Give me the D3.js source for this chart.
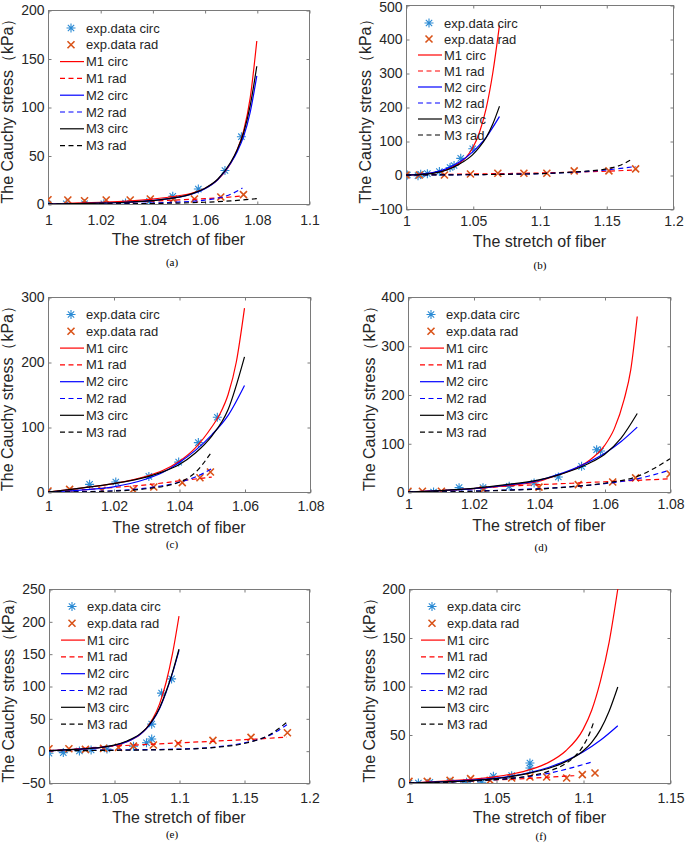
<!DOCTYPE html>
<html><head><meta charset="utf-8">
<script src="https://cdn.jsdelivr.net/npm/d3@7"></script>
<style>body{margin:0;background:#fff}svg{display:block}</style>
</head><body><svg id="c" width="685" height="849"></svg>
<script>
// ---------- Panel (a) ----------
const aXTicks = ["1","1.02","1.04","1.06","1.08","1.1"];
const aYTicks = [0,50,100,150,200];
const aExpCirc = [[1,0],[1.007,0.3],[1.014,0.3],[1.0214,0.3],[1.0297,1],[1.0389,2.7],[1.0478,7.9],[1.0576,15.4],[1.0678,34.5],[1.0741,69.4]];
const aExpRad = [[1,4.4],[1.0076,4.1],[1.014,3.4],[1.0223,4.1],[1.0315,4.1],[1.0392,5.1],[1.048,5],[1.0561,5.1],[1.0662,7.2],[1.0749,9.6]];
const aM1circ = [[1,0],[1.01,0.8],[1.02,1.8],[1.03,3],[1.04,5],[1.05,8.5],[1.055,11],[1.06,16],[1.065,25],[1.07,42],[1.0725,56],[1.075,76],[1.0775,110],[1.08,168]];
const aM1rad = [[1,0],[1.02,1.2],[1.04,3],[1.05,4.2],[1.06,5.5],[1.07,7.2],[1.0745,8.5]];
const aM2circ = [[1,0],[1.01,0.3],[1.02,0.8],[1.03,1.8],[1.04,3.5],[1.05,7],[1.055,10],[1.06,15.5],[1.065,25],[1.07,42],[1.0725,54],[1.075,70],[1.0775,95],[1.08,132]];
const aM2rad = [[1,0],[1.02,0.2],[1.04,1],[1.05,2],[1.06,4],[1.065,6],[1.07,10],[1.0745,16.5]];
const aM3circ = [[1,0],[1.01,0.3],[1.02,0.8],[1.03,1.8],[1.04,3.5],[1.05,7],[1.055,10.5],[1.06,16],[1.065,25.5],[1.07,43],[1.0725,56],[1.075,74],[1.0775,102],[1.08,142]];
const aM3rad = [[1,0],[1.02,0.1],[1.04,0.5],[1.05,1],[1.06,1.8],[1.07,3.2],[1.08,5.5]];

// ---------- Panel (b) ----------
const bXTicks = ["1","1.05","1.1","1.15","1.2"];
const bYTicks = [-100,0,100,200,300,400,500];
const bExpCirc = [[1.001,0],[1.009,-2],[1.011,2],[1.016,4],[1.025,10],[1.033,22],[1.036,28],[1.041,49],[1.05,77]];
const bExpRad = [[1,0],[1.01,0],[1.0288,0],[1.0483,3],[1.0688,5],[1.0883,5],[1.1055,5],[1.126,12],[1.152,12],[1.172,18]];
const bM1circ = [[1,0],[1.01,2],[1.02,6],[1.03,15],[1.04,35],[1.045,52],[1.05,80],[1.055,125],[1.06,195],[1.065,300],[1.07,440]];
const bM1rad = [[1,0],[1.05,3],[1.1,6],[1.13,9],[1.15,11],[1.172,15]];
const bM2circ = [[1,0],[1.01,2],[1.02,7],[1.03,18],[1.04,38],[1.05,68],[1.055,88],[1.06,110],[1.065,140],[1.07,172]];
const bM2rad = [[1,0],[1.05,1],[1.1,4],[1.13,9],[1.15,15],[1.172,25]];
const bM3circ = [[1,0],[1.01,1.5],[1.02,5],[1.03,14],[1.04,32],[1.05,60],[1.055,82],[1.06,110],[1.065,150],[1.07,202]];
const bM3rad = [[1,0],[1.05,1],[1.1,4],[1.13,10],[1.15,18],[1.16,28],[1.17,48]];

// ---------- Panel (c) ----------
const cXTicks = ["1","1.02","1.04","1.06","1.08"];
const cYTicks = [0,100,200,300];
const cExpCirc = [[1,0],[1.0064,0],[1.0127,11.8],[1.0207,15.4],[1.0308,24],[1.0399,46],[1.0459,76],[1.0517,115]];
const cExpRad = [[1,1.5],[1.0066,4],[1.0165,2.6],[1.026,3.6],[1.0323,7.7],[1.041,14.4],[1.0464,22],[1.0496,30.8]];
const cM1circ = [[1,0],[1.01,6],[1.02,13],[1.03,24],[1.035,33],[1.04,47],[1.045,68],[1.05,100],[1.0525,120],[1.055,150],[1.0575,200],[1.06,283]];
const cM1rad = [[1,0],[1.01,3],[1.02,7],[1.03,11],[1.04,17],[1.045,20],[1.05,23]];
const cM2circ = [[1,0],[1.01,3],[1.02,8],[1.03,20],[1.035,30],[1.04,45],[1.045,64],[1.05,88],[1.055,118],[1.06,164]];
const cM2rad = [[1,0],[1.01,0.5],[1.02,2],[1.03,6],[1.04,15],[1.045,23],[1.05,36]];
const cM3circ = [[1,0],[1.01,6],[1.02,13],[1.03,23],[1.035,31],[1.04,42],[1.045,60],[1.05,86],[1.055,127],[1.06,208]];
const cM3rad = [[1,0],[1.01,0.3],[1.02,1.5],[1.03,5],[1.04,15],[1.045,30],[1.05,62]];

// ---------- Panel (d) ----------
const dXTicks = ["1","1.02","1.04","1.06","1.08"];
const dYTicks = [0,100,200,300,400];
const dExpCirc = [[1,0],[1.0078,0],[1.0156,8.9],[1.0229,8.9],[1.0309,11.6],[1.0385,18.5],[1.0459,30.8],[1.053,52.6],[1.0576,86.8],[1.0588,84]];
const dExpRad = [[1,1.5],[1.0044,1.5],[1.0102,1.5],[1.023,5],[1.04,10],[1.052,15],[1.0625,20.5],[1.0695,29],[1.08,37]];
const dM1circ = [[1,0],[1.01,3],[1.02,7],[1.03,13],[1.04,22],[1.045,33],[1.05,45],[1.055,63],[1.06,95],[1.063,130],[1.066,190],[1.068,250],[1.07,360]];
const dM1rad = [[1,0],[1.01,3],[1.02,7],[1.03,12],[1.04,15],[1.05,18],[1.06,21],[1.07,24],[1.08,27]];
const dM2circ = [[1,0],[1.01,3],[1.02,7],[1.03,14],[1.04,24],[1.045,34],[1.05,46],[1.055,61],[1.06,79],[1.065,103],[1.07,133]];
const dM2rad = [[1,0],[1.01,0.5],[1.02,2],[1.03,4],[1.04,7],[1.05,11],[1.06,17],[1.07,27],[1.08,45]];
const dM3circ = [[1,0],[1.01,3],[1.02,7.5],[1.03,15],[1.04,25],[1.045,33],[1.05,44],[1.055,58],[1.06,77],[1.065,110],[1.07,161]];
const dM3rad = [[1,0],[1.01,0.3],[1.02,1.5],[1.03,3.5],[1.04,6],[1.05,11],[1.06,18],[1.07,32],[1.08,68]];

// ---------- Panel (e) ----------
const eXTicks = ["1","1.05","1.1","1.15","1.2"];
const eYTicks = [-50,0,50,100,150,200,250];
const eExpCirc = [[1,-4],[1.011,-3],[1.0234,-0.5],[1.0324,1],[1.0446,2.6],[1.065,7],[1.075,12.3],[1.079,18],[1.079,41],[1.0866,89],[1.0943,111]];
const eExpRad = [[1,3],[1.0153,3],[1.028,2],[1.042,3.6],[1.0535,5],[1.065,7],[1.0803,8.7],[1.0994,11],[1.1261,16],[1.1554,20.5],[1.1834,27.7]];
const eM1circ = [[1,0],[1.02,2],[1.04,5],[1.05,8],[1.06,14],[1.07,25],[1.075,35],[1.08,50],[1.085,72],[1.09,105],[1.095,150],[1.1,208]];
const eM1rad = [[1,0],[1.03,4],[1.05,7],[1.08,10],[1.1,12],[1.13,15],[1.16,18],[1.183,21]];
const eM2circ = [[1,0],[1.02,2],[1.04,5],[1.05,8],[1.06,14],[1.07,25],[1.075,34],[1.08,47],[1.085,65],[1.09,90],[1.095,120],[1.1,155]];
const eM2rad = [[1,0],[1.05,1],[1.1,2.5],[1.13,6],[1.15,12],[1.17,24],[1.183,40]];
const eM3circ = [[1,0],[1.02,2],[1.04,5],[1.05,8.5],[1.06,15],[1.07,26],[1.075,35],[1.08,48],[1.085,66],[1.09,91],[1.095,121],[1.1,157]];
const eM3rad = [[1,0],[1.05,0.5],[1.1,2],[1.13,5.5],[1.15,11],[1.17,25],[1.183,44]];

// ---------- Panel (f) ----------
const fXTicks = ["1","1.05","1.1","1.15"];
const fYTicks = [0,50,100,150,200];
const fExpCirc = [[1,0],[1.0054,0],[1.012,0.7],[1.0236,0.7],[1.0331,0.7],[1.0418,0.7],[1.0485,6.9],[1.059,7.6],[1.0695,15.5],[1.0695,20.6]];
const fExpRad = [[1,1.7],[1.0105,1.7],[1.0236,2.7],[1.0354,4.5],[1.0466,2.7],[1.059,5.2],[1.0695,6.2],[1.0791,6.2],[1.0906,5.2],[1.0996,8.6],[1.1069,10.3]];
const fM1circ = [[1,0],[1.02,2],[1.04,4.5],[1.05,6.5],[1.06,9.5],[1.07,14],[1.08,21],[1.09,33],[1.1,55],[1.105,75],[1.11,105],[1.115,145],[1.12,200]];
const fM1rad = [[1,0],[1.03,2],[1.06,4],[1.08,6],[1.09,7],[1.095,7.5]];
const fM2circ = [[1,0],[1.02,1.5],[1.04,3.5],[1.05,5],[1.06,7.5],[1.07,11],[1.08,16],[1.09,23],[1.1,32],[1.11,44],[1.12,59]];
const fM2rad = [[1,0],[1.03,1.5],[1.05,3.5],[1.06,5],[1.07,7],[1.08,10],[1.09,14],[1.1,19],[1.106,22]];
const fM3circ = [[1,0],[1.02,1.2],[1.04,3],[1.05,4.5],[1.06,7],[1.07,10.5],[1.08,15],[1.09,22],[1.1,33],[1.105,42],[1.11,55],[1.115,74],[1.12,99]];
const fM3rad = [[1,0],[1.03,1.5],[1.05,3.5],[1.06,5],[1.07,7.5],[1.08,12],[1.09,20],[1.095,27],[1.1,38],[1.104,52],[1.106,62]];

const legendLabels = ["exp.data circ","exp.data rad","M1 circ","M1 rad","M2 circ","M2 rad","M3 circ","M3 rad"];
const xLabel = "The stretch of fiber";
const yLabel = "The Cauchy stress（kPa）";

const C_CIRC = "#2a8ad4", C_RAD = "#d95319";
const FONT = "'Liberation Sans', Arial, sans-serif";

const panels = [
  {cap:"(a)", L:48, T:10, R:309, B:204, xd:[1,1.1], yd:[0,200], xt:aXTicks, yt:aYTicks,
   tickY:225, xlabY:245, capY:266, capX:172, ylabOff:35,
   exp:[aExpCirc,aExpRad], m:[aM1circ,aM1rad,aM2circ,aM2rad,aM3circ,aM3rad], legT:18, legS:16.8},
  {cap:"(b)", L:406, T:5, R:673, B:209, xd:[1,1.2], yd:[-100,500], xt:bXTicks, yt:bYTicks,
   tickY:226, xlabY:247, capY:269, capX:540, ylabOff:35,
   exp:[bExpCirc,bExpRad], m:[bM1circ,bM1rad,bM2circ,bM2rad,bM3circ,bM3rad], legT:18, legS:16},
  {cap:"(c)", L:48, T:297, R:310, B:492, xd:[1,1.08], yd:[0,300], xt:cXTicks, yt:cYTicks,
   tickY:511, xlabY:533, capY:548, capX:172, ylabOff:35,
   exp:[cExpCirc,cExpRad], m:[cM1circ,cM1rad,cM2circ,cM2rad,cM3circ,cM3rad], legT:17.5, legS:16.8},
  {cap:"(d)", L:408, T:297, R:670, B:492, xd:[1,1.08], yd:[0,400], xt:dXTicks, yt:dYTicks,
   tickY:509, xlabY:531, capY:551, capX:541, ylabOff:33,
   exp:[dExpCirc,dExpRad], m:[dM1circ,dM1rad,dM2circ,dM2rad,dM3circ,dM3rad], legT:17.5, legS:16.8},
  {cap:"(e)", L:49, T:589, R:309, B:783, xd:[1,1.2], yd:[-50,250], xt:eXTicks, yt:eYTicks,
   tickY:803, xlabY:823, capY:838, capX:172, ylabOff:35,
   exp:[eExpCirc,eExpRad], m:[eM1circ,eM1rad,eM2circ,eM2rad,eM3circ,eM3rad], legT:17.5, legS:16.8},
  {cap:"(f)", L:409, T:589, R:670, B:783, xd:[1,1.15], yd:[0,200], xt:fXTicks, yt:fYTicks,
   tickY:803, xlabY:823, capY:840, capX:541, ylabOff:34,
   exp:[fExpCirc,fExpRad], m:[fM1circ,fM1rad,fM2circ,fM2rad,fM3circ,fM3rad], legT:17.5, legS:16.8}
];

const lineStyles = [
  {c:"#ff0000", d:null},{c:"#ff0000", d:"5,3.5"},
  {c:"#0000ff", d:null},{c:"#0000ff", d:"5,3.5"},
  {c:"#000000", d:null},{c:"#000000", d:"5,3.5"}
];

const svg = d3.select("#c");

function asterisk(g, x, y, r) {
  const p = d3.path();
  for (let k = 0; k < 4; k++) {
    const a = k * Math.PI / 4;
    p.moveTo(x - r*Math.cos(a), y - r*Math.sin(a));
    p.lineTo(x + r*Math.cos(a), y + r*Math.sin(a));
  }
  g.append("path").attr("d", p.toString()).attr("stroke", C_CIRC).attr("stroke-width", 1.1).attr("fill","none");
}
function cross(g, x, y, r) {
  const p = d3.path();
  p.moveTo(x-r, y-r); p.lineTo(x+r, y+r);
  p.moveTo(x-r, y+r); p.lineTo(x+r, y-r);
  g.append("path").attr("d", p.toString()).attr("stroke", C_RAD).attr("stroke-width", 1.6).attr("fill","none");
}

panels.forEach((P, i) => {
  const g = svg.append("g");
  const x = d3.scaleLinear().domain(P.xd).range([P.L, P.R]);
  const y = d3.scaleLinear().domain(P.yd).range([P.B, P.T]);
  const clipId = "clip" + i;
  svg.append("defs").append("clipPath").attr("id", clipId)
    .append("rect").attr("x", P.L).attr("y", P.T).attr("width", P.R-P.L).attr("height", P.B-P.T);

  g.append("rect").attr("x", P.L+0.5).attr("y", P.T+0.5).attr("width", P.R-P.L).attr("height", P.B-P.T)
    .attr("fill","none").attr("stroke","#7a7a7a").attr("stroke-width",1);

  const xVals = P.xt.map(Number);
  const xAxB = d3.axisBottom(x).tickValues(xVals).tickSize(-3).tickFormat((d,k)=>P.xt[k]);
  const gx = g.append("g").attr("transform", `translate(0.5,${P.B+0.5})`).call(xAxB);
  gx.select(".domain").remove();
  gx.selectAll("line").attr("stroke","#7a7a7a");
  gx.selectAll("text").attr("y", P.tickY - P.B - 0.5).attr("dy", null)
    .attr("font-family", FONT).attr("font-size", 14).attr("fill", "#262626");
  const gxt = g.append("g").attr("transform", `translate(0.5,${P.T+0.5})`).call(d3.axisTop(x).tickValues(xVals).tickSize(-3).tickFormat(""));
  gxt.select(".domain").remove(); gxt.selectAll("line").attr("stroke","#7a7a7a");

  const yAxL = d3.axisLeft(y).tickValues(P.yt).tickSize(-3).tickPadding(4).tickFormat(d3.format("d"));
  const gy = g.append("g").attr("transform", `translate(${P.L+0.5},0.5)`).call(yAxL);
  gy.select(".domain").remove();
  gy.selectAll("line").attr("stroke","#7a7a7a");
  gy.selectAll("text").attr("x", -4).attr("font-family", FONT).attr("font-size", 14).attr("fill", "#262626")
    .attr("dy", d => (y(d) - P.T < 6 && P.T < 8) ? "0.45em" : "0.32em");
  const gyr = g.append("g").attr("transform", `translate(${P.R+0.5},0.5)`).call(d3.axisRight(y).tickValues(P.yt).tickSize(-3).tickFormat(""));
  gyr.select(".domain").remove(); gyr.selectAll("line").attr("stroke","#7a7a7a");

  g.append("text").attr("x", (P.L+P.R)/2).attr("y", P.xlabY).attr("text-anchor","middle")
    .attr("font-family", FONT).attr("font-size", 16).attr("fill","#262626").text(xLabel);
  g.append("text").attr("transform", `translate(${P.L-P.ylabOff},${(P.T+P.B)/2}) rotate(-90)`)
    .attr("text-anchor","middle").attr("font-family", FONT).attr("font-size", 16).attr("fill","#262626").text(yLabel);
  g.append("text").attr("x", P.capX).attr("y", P.capY).attr("text-anchor","middle")
    .attr("font-family","'Liberation Serif','Times New Roman',serif").attr("font-size", 11).attr("fill","#000").text(P.cap);

  const plot = g.append("g").attr("clip-path", `url(#${clipId})`);
  P.exp[0].forEach(d => asterisk(plot, x(d[0]), y(d[1]), 4.5));
  P.exp[1].forEach(d => cross(plot, x(d[0]), y(d[1]), 3.5));
  const line = d3.line().x(d => x(d[0])).y(d => y(d[1])).curve(d3.curveMonotoneX);
  P.m.forEach((s, k) => {
    plot.append("path").attr("d", line(s)).attr("fill","none")
      .attr("stroke", lineStyles[k].c).attr("stroke-width", 1.2)
      .attr("stroke-dasharray", lineStyles[k].d);
  });

  const lg = g.append("g");
  legendLabels.forEach((lab, k) => {
    const ry = P.T + P.legT + k * P.legS;
    if (k === 0) asterisk(lg, P.L + 23, ry, 4.5);
    else if (k === 1) cross(lg, P.L + 23, ry, 3.5);
    else {
      const st = lineStyles[k-2];
      lg.append("line").attr("x1", P.L + 12).attr("x2", P.L + 36).attr("y1", ry).attr("y2", ry)
        .attr("stroke", st.c).attr("stroke-width", 1.2).attr("stroke-dasharray", st.d);
    }
    lg.append("text").attr("x", P.L + 38).attr("y", ry + 4.5)
      .attr("font-family", FONT).attr("font-size", 13).attr("fill","#262626").text(lab);
  });
});
</script></body></html>
